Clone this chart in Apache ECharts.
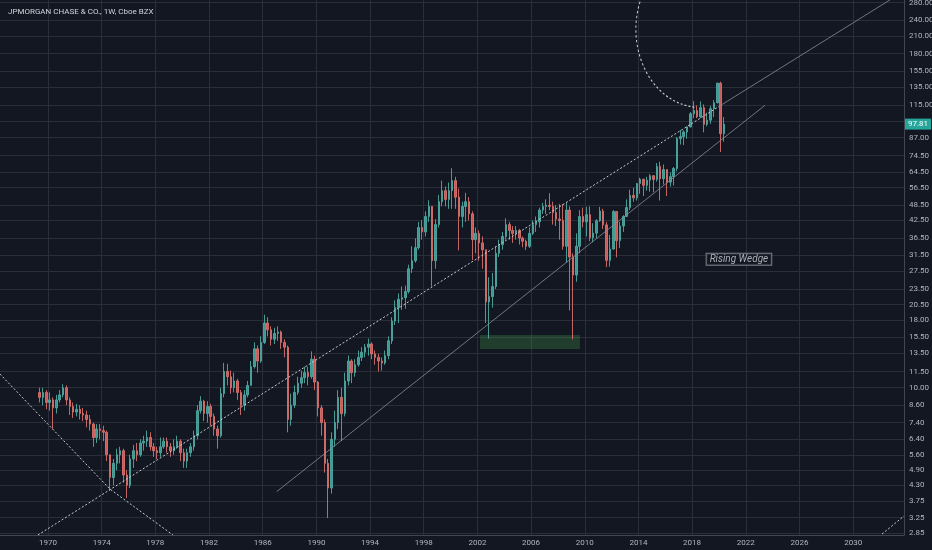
<!DOCTYPE html>
<html>
<head>
<meta charset="utf-8">
<style>
  html, body { margin: 0; padding: 0; background: #131722; }
  #chart { width: 932px; height: 550px; }
</style>
<script src="https://cdn.jsdelivr.net/npm/echarts@6/dist/echarts.min.js"></script>
</head>
<body>
<div id="chart"></div>
<script>
// quarterly candles, first one is 1969 Q2
const firstQuarter = 1969.25;
const firstOpen = 9.6;

const closes = [
  9.2, 9.6, 8.8,
  9.0, 8.4, 9.0, 9.4,   10.0, 9.0, 8.5, 8.1,   8.3, 8.0, 7.9, 7.6,   7.3, 6.5, 7.0, 6.9,
  6.8, 5.6, 4.6, 5.2,   5.6, 5.8, 4.7, 4.3,   5.4, 5.8, 5.6, 6.2,   6.3, 6.5, 6.0, 5.8,
  5.7, 6.0, 6.3, 6.0,   5.8, 6.0, 6.3, 5.7,   5.3, 5.7, 6.0, 6.6,   8.2, 8.9, 8.0, 8.5,
  7.8, 7.0, 6.6, 9.5,   11.5, 11.0, 10.0, 10.6,   9.6, 8.6, 9.4, 10.2,   12.0, 14.0, 12.6, 14.8,
  17.5, 16.5, 15.2, 16.0,   16.2, 14.8, 14.2, 7.6,   8.6, 9.6, 10.4, 10.9,   11.4, 11.0, 12.8, 10.5,
  8.4, 7.4, 5.2, 4.2,   6.4, 7.4, 9.2, 8.0,   10.6, 12.6, 11.4, 12.2,   13.0, 13.6, 14.2, 14.6,
  13.4, 13.0, 12.6, 12.4,   13.2, 15.0, 17.8, 20.0,   21.5, 21.8, 23.0, 28.0,   30.0, 33.6, 40.0, 38.5,
  44.0, 48.0, 30.0, 41.0,   50.0, 55.0, 51.0, 55.0,   60.0, 52.0, 44.0, 48.0,   50.0, 45.0, 36.0, 38.0,
  35.0, 33.0, 21.0, 22.0,   24.0, 32.0, 34.5, 37.0,   41.0, 39.0, 38.0, 39.0,   36.5, 35.5, 34.0, 38.0,
  41.0, 42.0, 46.5, 48.0,   48.5, 48.0, 45.5, 43.0,   42.5, 34.0, 46.5, 31.0,   26.5, 34.0, 44.0, 42.0,
  44.7, 36.6, 38.1, 42.4,   46.1, 40.9, 30.1, 33.2,   45.9, 35.7, 40.5, 44.0,   47.5, 52.8, 51.7, 58.5,
  60.7, 57.6, 60.2, 62.6,   60.6, 67.8, 61.0, 66.0,   59.2, 62.1, 66.6, 86.3,   87.8, 91.4, 95.5, 107.0,
  110.0, 104.2, 112.8, 97.6,   101.2, 111.8, 117.7, 139.4,   90.0, 97.81
];
const highs = [
  10.0, 10.0, 9.8,
  9.6, 9.2, 9.4, 9.8,   10.3, 10.2, 9.2, 8.8,   8.7, 8.6, 8.4, 8.2,   7.9, 7.4, 7.3, 7.3,
  7.2, 6.9, 5.6, 5.4,   5.9, 6.0, 5.9, 4.9,   5.6, 6.1, 6.2, 6.4,   6.6, 6.9, 6.8, 6.2,
  6.0, 6.5, 6.5, 6.5,   6.2, 6.4, 6.6, 6.4,   5.9, 5.9, 6.2, 6.9,   8.6, 9.3, 9.0, 8.9,
  8.7, 8.0, 7.2, 10.0,   12.4, 12.3, 11.6, 11.4,   10.8, 9.8, 9.8, 10.6,   12.6, 14.8, 14.4, 15.6,
  18.8, 18.4, 17.0, 16.8,   17.0, 16.4, 15.2, 14.4,   9.5, 10.2, 11.0, 11.6,   12.0, 12.0, 13.7, 13.2,
  10.6, 8.6, 7.6, 5.4,   6.8, 8.2, 9.8, 10.0,   11.4, 13.2, 12.8, 12.8,   13.8, 14.2, 14.6, 15.3,
  14.8, 13.8, 13.4, 13.0,   13.8, 15.6, 18.4, 21.3,   22.6, 24.0, 24.2, 29.0,   34.0, 36.4, 42.0, 42.6,
  46.0, 50.6, 48.0, 43.0,   53.0, 60.0, 57.0, 59.0,   66.8, 62.0, 56.0, 50.0,   54.0, 52.0, 46.0, 40.0,
  39.0, 37.0, 33.0, 26.0,   27.0, 34.0, 36.0, 38.5,   43.3, 42.0, 40.5, 40.5,   39.5, 37.0, 36.0, 40.0,
  42.5, 44.0, 47.5, 49.5,   51.0, 53.8, 50.0, 48.5,   49.0, 49.0, 49.5, 48.0,   32.0, 38.0, 46.5, 47.5,
  47.8, 48.0, 41.5, 43.0,   47.8, 47.0, 42.0, 37.5,   46.5, 46.0, 42.0, 44.5,   51.0, 55.5, 56.5, 58.8,
  61.5, 61.0, 62.0, 63.5,   62.9, 69.8, 70.6, 69.0,   66.0, 64.5, 67.5, 87.4,   93.0, 92.7, 95.8, 108.5,
  119.3, 115.0, 119.0, 116.0,   108.0, 114.5, 120.4, 140.0,   141.1, 104.0
];
const lows = [
  8.8, 8.6, 8.3,
  8.2, 7.0, 8.0, 8.8,   9.2, 8.6, 7.9, 7.7,   7.8, 7.6, 7.5, 7.1,   6.9, 6.0, 6.2, 6.4,
  6.3, 5.3, 4.1, 4.3,   4.9, 5.2, 4.4, 3.85,   4.2, 5.0, 5.3, 5.5,   5.8, 6.0, 5.8, 5.5,
  5.4, 5.5, 5.9, 5.7,   5.5, 5.6, 5.9, 5.3,   5.0, 5.0, 5.5, 5.8,   6.4, 8.0, 7.5, 7.4,
  7.2, 6.6, 5.9, 6.5,   9.2, 10.2, 9.5, 9.6,   9.0, 7.9, 8.2, 9.2,   10.2, 11.8, 11.4, 12.4,
  14.6, 15.6, 14.4, 14.6,   15.0, 14.0, 13.0, 6.8,   7.2, 8.4, 9.4, 10.0,   10.4, 10.2, 10.8, 9.8,
  7.8, 6.6, 4.8, 3.24,   4.0, 6.0, 7.0, 6.3,   7.8, 10.2, 10.4, 11.0,   12.0, 12.6, 13.0, 13.2,
  12.8, 12.2, 11.5, 11.6,   12.2, 12.8, 14.6, 17.2,   17.5, 19.6, 19.8, 22.6,   27.0, 29.5, 33.0, 36.0,
  37.0, 42.0, 24.0, 28.0,   40.0, 48.0, 48.0, 47.0,   47.0, 47.0, 32.8, 40.0,   42.0, 42.5, 30.2, 32.0,
  30.0, 28.0, 17.5, 15.3,   20.0, 23.5, 31.0, 33.0,   36.0, 36.0, 35.0, 36.0,   34.5, 33.7, 32.9, 33.5,
  37.5, 38.5, 40.0, 45.0,   45.0, 46.5, 41.0, 40.5,   36.0, 33.0, 29.5, 19.5,   15.2, 25.0, 32.0, 40.0,
  37.0, 35.5, 35.2, 36.5,   42.0, 39.5, 28.4, 28.5,   33.0, 30.9, 33.5, 38.5,   44.0, 46.5, 50.0, 50.5,
  53.5, 52.5, 55.0, 54.5,   54.3, 59.5, 50.5, 58.0,   52.5, 57.0, 57.5, 65.0,   82.0, 81.6, 86.2, 95.0,
  103.0, 103.0, 103.0, 91.1,   96.0, 98.0, 104.0, 117.0,   76.9, 84.0
];

const yearTicks = [1970, 1974, 1978, 1982, 1986, 1990, 1994, 1998, 2002, 2006, 2010, 2014, 2018, 2022, 2026, 2030];
const priceTicks = [2.85, 3.25, 3.75, 4.30, 4.90, 5.60, 6.40, 7.40, 8.60, 10.00, 11.50, 13.50, 15.50, 18.00,
  20.50, 23.50, 27.50, 31.50, 36.50, 42.50, 48.50, 56.50, 64.50, 74.50, 87.00, 115.00, 135.00, 155.00,
  180.00, 210.00, 240.00, 280.00];
const priceGridLines = priceTicks.concat([100]);
const lastPrice = 97.81;

// drawings on the chart, as [year, price]
const wedgeUpper = [[1969.25, 2.797], [2019.93, 113.4]];
const wedgeUpperExt = [[2019.93, 113.4], [2033.79, 309]];
const wedgeLower = [[1987.04, 4.07], [2023.43, 115.1]];
const fallingLine = [[1966.42, 11.26], [1974.62, 4.16], [1979.31, 2.797]];
const cornerLine = [[2032.15, 2.82], [2033.79, 3.297]];
const supportBox = [[2002.19, 15.78], [2009.64, 13.98]];
const wedgeNote = [2021.49, 30.4];
const arcCenter = [2018.58, 222];

const candles = closes.map((c, i) => {
  const open = i === 0 ? firstOpen : closes[i - 1];
  return [firstQuarter + 0.125 + i * 0.25, open, c, lows[i], highs[i]];
});

const font = 'Roboto, "Open Sans", sans-serif';
const gridColor = '#2a2e39';
const textColor = '#b2b5be';

function drawing(data, dashed) {
  return {
    type: 'line',
    data: data,
    symbol: 'none',
    silent: true,
    z: 5,
    lineStyle: dashed
      ? { color: '#c9ccd3', width: 1, type: [2, 2] }
      : { color: '#8a8d96', width: 0.8, type: 'solid' }
  };
}

const chart = echarts.init(document.getElementById('chart'));
chart.setOption({
  backgroundColor: '#131722',
  animation: false,
  title: {
    text: 'JPMORGAN CHASE & CO., 1W, Cboe BZX',
    left: 3, top: 3,
    textStyle: { color: '#d1d4dc', fontSize: 8, fontWeight: 'normal', fontFamily: font }
  },
  grid: { left: 0, right: 28, top: 0, bottom: 15, outerBoundsMode: 'none' },
  xAxis: {
    type: 'value',
    min: 1966.423,
    max: 2033.79,
    axisLine: { show: true, lineStyle: { color: '#434651' } },
    axisTick: { show: false, customValues: yearTicks },
    axisLabel: {
      customValues: yearTicks,
      formatter: v => String(Math.round(v)),
      color: textColor, fontSize: 8, margin: 4, fontFamily: font
    },
    splitLine: { show: true, lineStyle: { color: gridColor, width: 1 } }
  },
  yAxis: {
    type: 'log',
    logBase: 10,
    position: 'right',
    min: 2.797,
    max: 286.2,
    axisLine: { show: true, lineStyle: { color: '#434651' } },
    axisTick: { show: false, customValues: priceGridLines },
    axisLabel: {
      customValues: priceTicks,
      formatter: v => v.toFixed(2),
      color: textColor, fontSize: 8, margin: 5, fontFamily: font
    },
    splitLine: { show: true, lineStyle: { color: gridColor, width: 1 } }
  },
  series: [
    {
      type: 'candlestick',
      data: candles,
      encode: { x: 0, y: [1, 2, 3, 4] },
      barWidth: 2,
      itemStyle: {
        color: '#3fa99e', color0: '#e0615e',
        borderColor: '#4fa8a0', borderColor0: '#d8706c', borderWidth: 1,
        opacity: 0.9
      },
      markArea: {
        silent: true,
        itemStyle: { color: 'rgba(76,175,80,0.25)' },
        data: [[{ coord: supportBox[0] }, { coord: supportBox[1] }]]
      },
      markLine: {
        silent: true,
        symbol: 'none',
        lineStyle: { color: 'rgba(0,0,0,0)' },
        label: {
          show: true, position: 'end', distance: 1,
          formatter: lastPrice.toFixed(2),
          color: '#fff', backgroundColor: '#26a69a',
          padding: [2, 3, 1, 3], fontSize: 8, fontFamily: font
        },
        data: [{ yAxis: lastPrice }]
      }
    },
    drawing(wedgeUpper, true),
    drawing(wedgeUpperExt, false),
    drawing(wedgeLower, false),
    drawing(fallingLine, true),
    drawing(cornerLine, true),
    {
      type: 'scatter',
      data: [wedgeNote],
      symbolSize: 1,
      silent: true,
      z: 6,
      itemStyle: { color: 'rgba(0,0,0,0)' },
      label: {
        show: true, position: 'inside',
        formatter: 'Rising Wedge',
        color: '#d1d4dc', fontStyle: 'italic', fontSize: 10, fontFamily: font,
        borderColor: '#9598a1', borderWidth: 1, padding: [1, 3, 0, 3],
        backgroundColor: '#131722'
      }
    }
  ]
});

// dashed half-circle over the 2018 top
const c = chart.convertToPixel({ xAxisIndex: 0, yAxisIndex: 0 }, arcCenter);
chart.setOption({
  graphic: [{
    type: 'arc',
    x: c[0], y: c[1],
    scaleY: 78 / 64,
    silent: true,
    z: 10,
    shape: { cx: 0, cy: 0, r: 64, startAngle: 95 * Math.PI / 180, endAngle: 212 * Math.PI / 180, clockwise: true },
    style: { stroke: '#c9ccd3', lineWidth: 1, lineDash: [2, 2], fill: null, strokeNoScale: true }
  }]
});
</script>
</body>
</html>
